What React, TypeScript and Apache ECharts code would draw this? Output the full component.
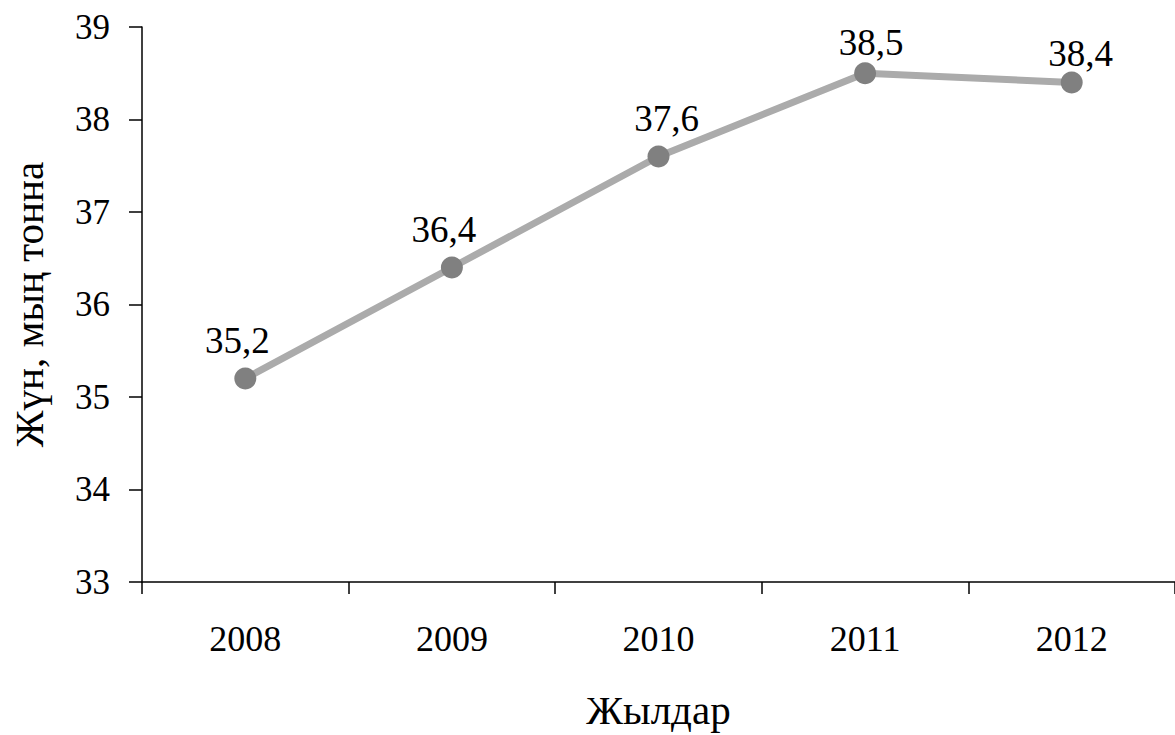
import React, { useEffect, useRef } from "react";
import * as echarts from "echarts";

const years = ["2008", "2009", "2010", "2011", "2012"];
const woolValues = [35.2, 36.4, 37.6, 38.5, 38.4];
const yTicks = { min: 33, max: 39, interval: 1 };
const xTitle = "Жылдар";
const yTitle = "Жүн, мың тонна";

const FONT = "'Liberation Serif', 'Times New Roman', serif";

export default function App() {
  const ref = useRef<HTMLDivElement>(null);
  useEffect(() => {
    if (!ref.current) return;
    const chart = echarts.init(ref.current, undefined, { renderer: "svg" });
    const nudges = [
      [-8, 0],
      [-8, 0],
      [8, 0],
      [6, 8],
      [9, 9],
    ];
    chart.setOption({
      animation: false,
      backgroundColor: "#ffffff",
      textStyle: { fontFamily: FONT },
      grid: { left: 142, top: 27, right: -7, bottom: 151 },
      xAxis: {
        type: "category",
        data: years,
        boundaryGap: true,
        name: xTitle,
        nameLocation: "middle",
        nameGap: 107,
        nameTextStyle: { fontFamily: FONT, fontSize: 41, color: "#000" },
        axisLine: { lineStyle: { color: "#000", width: 1.5 } },
        axisTick: { show: true, length: 12, inside: false, alignWithLabel: false, lineStyle: { color: "#000", width: 1.5 } },
        axisLabel: { fontFamily: FONT, fontSize: 36, color: "#000", margin: 39 },
        splitLine: { show: false },
      },
      yAxis: {
        type: "value",
        min: yTicks.min,
        max: yTicks.max,
        interval: yTicks.interval,
        name: yTitle,
        nameLocation: "middle",
        nameGap: 93,
        nameRotate: 90,
        nameTextStyle: { fontFamily: FONT, fontSize: 41, color: "#000" },
        axisLine: { show: true, lineStyle: { color: "#000", width: 1.5 } },
        axisTick: { show: true, length: 13, lineStyle: { color: "#000", width: 1.5 } },
        axisLabel: { fontFamily: FONT, fontSize: 35, color: "#000", margin: 32 },
        splitLine: { show: false },
      },
      series: [
        {
          type: "line",
          data: woolValues.map((v, i) => ({
            value: v,
            label: { offset: nudges[i] },
          })),
          symbol: "circle",
          symbolSize: 22,
          itemStyle: { color: "#808080" },
          lineStyle: { color: "#ababab", width: 7 },
          label: {
            show: true,
            position: "top",
            distance: 9,
            fontFamily: FONT,
            fontSize: 37,
            color: "#000",
            formatter: (p: any) => String(p.value).replace(".", ","),
          },
        },
      ],
    });
    return () => chart.dispose();
  }, []);
  return (
    <div
      ref={ref}
      style={{ position: "absolute", left: 0, top: 0, width: 1175, height: 735, overflow: "hidden" }}
    />
  );
}
